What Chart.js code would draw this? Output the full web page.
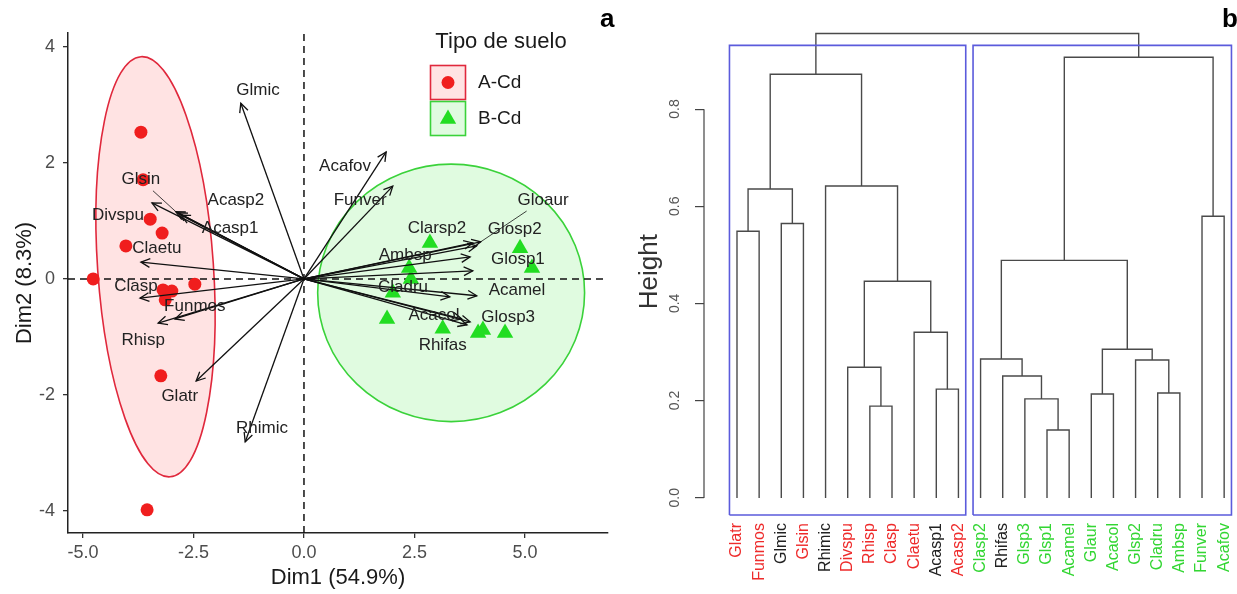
<!DOCTYPE html>
<html lang="es">
<head>
<meta charset="UTF-8">
<title>PCA y dendrograma</title>
<script src="https://cdn.jsdelivr.net/npm/chart.js"></script>
<style>
  body { margin: 0; background: #fff; }
  #wrap { position: relative; width: 1237px; height: 594px; overflow: hidden; }
  canvas { position: absolute; top: 0; }
  #pca { left: 0; }
  #dendro { left: 620px; }
</style>
</head>
<body>
<div id="wrap">
  <canvas id="pca" width="620" height="594"></canvas>
  <canvas id="dendro" width="633" height="594"></canvas>
</div>
<script>
// ---------- panel a: PCA biplot ----------
const xTicks = [-5, -2.5, 0, 2.5, 5];
const yTicks = [-4, -2, 0, 2, 4];

// individuals, [Dim1, Dim2]
const soilA = [[-3.69, 2.53], [-3.64, 1.71], [-3.48, 1.03], [-3.21, 0.79], [-4.03, 0.57], [-4.77, 0.0],
  [-2.47, -0.09], [-3.19, -0.19], [-2.99, -0.21], [-3.14, -0.36], [-3.24, -1.67], [-3.55, -3.98]];
const soilB = [[2.85, 0.62], [4.89, 0.53], [5.16, 0.19], [2.38, 0.19], [2.42, 0.0], [2.01, -0.24],
  [1.88, -0.69], [3.14, -0.86], [3.94, -0.93], [4.05, -0.88], [4.55, -0.93]];

// species vectors
const varNames = ["Glmic", "Glsin", "Acasp2", "Divspu", "Acasp1", "Claetu", "Clasp", "Funmos", "Rhisp", "Glatr", "Rhimic",
  "Acafov", "Funver", "Gloaur", "Clarsp2", "Glosp2", "Ambsp", "Glosp1", "Cladru", "Acamel", "Acacol", "Glosp3", "Rhifas"];
const varX = [-1.43, -2.90, -2.85, -3.44, -2.78, -3.69, -3.71, -2.92, -3.30, -2.44, -1.33,
  1.86, 2.01, 4.00, 3.82, 3.91, 3.76, 3.82, 3.30, 3.91, 3.69, 3.76, 3.57];
const varY = [3.03, 1.16, 1.14, 1.31, 1.10, 0.29, -0.33, -0.69, -0.76, -1.76, -2.81,
  2.19, 1.60, 0.64, 0.62, 0.57, 0.38, 0.14, -0.31, -0.29, -0.79, -0.74, -0.69];
// where each vector's name is written
const labelX = [-1.04, -3.69, -1.54, -4.21, -1.67, -3.33, -3.80, -2.47, -3.64, -2.81, -0.95,
  0.93, 1.27, 5.41, 3.01, 4.77, 2.29, 4.84, 2.24, 4.82, 2.94, 4.62, 3.14];
const labelY = [3.26, 1.71, 1.36, 1.10, 0.88, 0.53, -0.12, -0.47, -1.05, -2.03, -2.57,
  1.95, 1.36, 1.36, 0.88, 0.86, 0.40, 0.33, -0.14, -0.19, -0.62, -0.66, -1.14];
const leaderNames = ["Glsin", "Gloaur"];

// concentration ellipses: centre, half axes (data units), tilt (rad)
const ellipseA = { cx: -3.36, cy: 0.21, rx: 1.31, ry: 3.63, rot: -0.069 };
const ellipseB = { cx: 3.33, cy: -0.24, rx: 3.02, ry: 2.22, rot: 0 };

// ---------- panel b: dendrogram ----------
const leaves = ["Glatr", "Funmos", "Glmic", "Glsin", "Rhimic", "Divspu", "Rhisp", "Clasp", "Claetu", "Acasp1", "Acasp2",
  "Clasp2", "Rhifas", "Glsp3", "Glsp1", "Acamel", "Glaur", "Acacol", "Glsp2", "Cladru", "Ambsp", "Funver", "Acafov"];
const leafSoil = ["A", "A", "-", "A", "-", "A", "A", "A", "A", "-", "A",
  "B", "-", "B", "B", "B", "B", "B", "B", "B", "B", "B", "B"];
// hclust style merges: negative = leaf number, positive = earlier merge
const mergeLeft = [-15, -7, -14, -17, -20, -10, -13, -6, -19, -12, 4, -9, 8, 10, -1, -3, -22, 15, -5, 18, 14, 20];
const mergeRight = [-16, -8, 1, -18, -21, -11, 3, 2, 5, 7, 9, 6, 12, 11, -2, -4, -23, 16, 13, 19, 17, 21];
const mergeHeight = [0.140, 0.189, 0.204, 0.214, 0.216, 0.224, 0.251, 0.269, 0.284, 0.286, 0.306, 0.341,
  0.446, 0.489, 0.549, 0.565, 0.580, 0.636, 0.642, 0.872, 0.907, 0.956];
const heightTicks = [0, 0.2, 0.4, 0.6, 0.8];
const clusters = [[1, 11], [12, 23]];

const FONT = '"Liberation Sans", Arial, sans-serif';
Chart.defaults.font.family = FONT;

const RED = '#f01e1e';
const GREEN = '#22dd22';
const soilColor = { A: '#ee2b2b', B: '#33d633', '-': '#222222' };

// ---------- chart a ----------
const xMin = -5.34, xMax = 6.88, yMin = -4.38, yMax = 4.24;

const refSets = [
  [{ x: 0, y: yMin }, { x: 0, y: yMax }],
  [{ x: xMin, y: 0 }, { x: xMax, y: 0 }]
].map(d => ({
  type: 'line', data: d, borderColor: '#111', borderWidth: 1.5, borderDash: [7, 5],
  pointRadius: 0, showLine: true, order: 5
}));

const arrowSets = varNames.map((n, i) => ({
  label: n, data: [{ x: 0, y: 0 }, { x: varX[i], y: varY[i] }],
  showLine: true, borderColor: '#111', borderWidth: 1.3, pointRadius: 0, order: 2
}));

const pointsA = {
  label: 'A-Cd', data: soilA.map(p => ({ x: p[0], y: p[1] })),
  pointStyle: 'circle', pointRadius: 6.5, backgroundColor: RED, borderWidth: 0, order: 3
};
const pointsB = {
  label: 'B-Cd', data: soilB.map(p => ({ x: p[0], y: p[1] })),
  pointStyle: 'triangle', pointRadius: 9.5, backgroundColor: GREEN, borderWidth: 0, order: 3
};

function drawEllipse(ctx, xs, ys, e, fill, stroke) {
  const cx = xs.getPixelForValue(e.cx), cy = ys.getPixelForValue(e.cy);
  const rx = Math.abs(xs.getPixelForValue(e.cx + e.rx) - cx);
  const ry = Math.abs(ys.getPixelForValue(e.cy + e.ry) - cy);
  ctx.beginPath();
  ctx.ellipse(cx, cy, rx, ry, e.rot, 0, Math.PI * 2);
  ctx.fillStyle = fill;
  ctx.fill();
  ctx.lineWidth = 1.6;
  ctx.strokeStyle = stroke;
  ctx.stroke();
}

const ellipsePlugin = {
  id: 'ellipses',
  beforeDatasetsDraw(chart) {
    const { ctx, scales: { x, y } } = chart;
    ctx.save();
    drawEllipse(ctx, x, y, ellipseA, 'rgba(255,0,0,0.11)', '#e0283c');
    drawEllipse(ctx, x, y, ellipseB, 'rgba(0,220,0,0.12)', '#3ad23a');
    ctx.restore();
  }
};

const annotPlugin = {
  id: 'annot',
  afterDatasetsDraw(chart) {
    const { ctx, scales: { x, y } } = chart;
    ctx.save();
    // arrow heads
    const ox = x.getPixelForValue(0), oy = y.getPixelForValue(0);
    ctx.strokeStyle = '#111';
    ctx.lineWidth = 1.3;
    varX.forEach((vx, i) => {
      const tx = x.getPixelForValue(vx), ty = y.getPixelForValue(varY[i]);
      const a = Math.atan2(ty - oy, tx - ox);
      ctx.beginPath();
      ctx.moveTo(tx - 10 * Math.cos(a - 0.45), ty - 10 * Math.sin(a - 0.45));
      ctx.lineTo(tx, ty);
      ctx.lineTo(tx - 10 * Math.cos(a + 0.45), ty - 10 * Math.sin(a + 0.45));
      ctx.stroke();
    });

    // names
    ctx.font = '17px ' + FONT;
    ctx.fillStyle = '#222';
    ctx.textAlign = 'center';
    ctx.textBaseline = 'middle';
    varNames.forEach((n, i) => {
      const lx = x.getPixelForValue(labelX[i]), ly = y.getPixelForValue(labelY[i]);
      ctx.fillText(n, lx, ly);
      if (leaderNames.includes(n)) {
        const tx = x.getPixelForValue(varX[i]), ty = y.getPixelForValue(varY[i]);
        const w = ctx.measureText(n).width / 2 + 2;
        const t = Math.min(w / Math.abs(tx - lx), 11 / Math.abs(ty - ly));
        ctx.beginPath();
        ctx.lineWidth = 0.8;
        ctx.moveTo(lx + t * (tx - lx), ly + t * (ty - ly));
        ctx.lineTo(tx, ty);
        ctx.stroke();
      }
    });

    // legend
    ctx.fillStyle = '#1a1a1a';
    ctx.font = '22px ' + FONT;
    ctx.fillText('Tipo de suelo', 501, 42);
    ctx.lineWidth = 1.6;
    ctx.fillStyle = 'rgba(255,0,0,0.11)';
    ctx.fillRect(430.5, 65.5, 35, 34);
    ctx.strokeStyle = '#e0283c';
    ctx.strokeRect(430.5, 65.5, 35, 34);
    ctx.fillStyle = 'rgba(0,220,0,0.12)';
    ctx.fillRect(430.5, 101.5, 35, 34);
    ctx.strokeStyle = '#3ad23a';
    ctx.strokeRect(430.5, 101.5, 35, 34);
    ctx.fillStyle = RED;
    ctx.beginPath();
    ctx.arc(448, 82.5, 6.5, 0, Math.PI * 2);
    ctx.fill();
    ctx.fillStyle = GREEN;
    ctx.beginPath();
    ctx.moveTo(448, 109.5);
    ctx.lineTo(448 + 8.2, 123.7);
    ctx.lineTo(448 - 8.2, 123.7);
    ctx.closePath();
    ctx.fill();
    ctx.fillStyle = '#1a1a1a';
    ctx.font = '19px ' + FONT;
    ctx.textAlign = 'left';
    ctx.fillText('A-Cd', 478, 83);
    ctx.fillText('B-Cd', 478, 119);

    // panel tag
    ctx.font = 'bold 26px ' + FONT;
    ctx.textBaseline = 'alphabetic';
    ctx.fillStyle = '#000';
    ctx.fillText('a', 600, 27);
    ctx.restore();
  }
};

new Chart(document.getElementById('pca'), {
  type: 'scatter',
  data: { datasets: [...refSets, ...arrowSets, pointsA, pointsB] },
  options: {
    responsive: false,
    animation: false,
    events: [],
    layout: { padding: { top: 33, right: 12, left: 0, bottom: 0 } },
    plugins: { legend: { display: false }, tooltip: { enabled: false } },
    scales: {
      x: {
        type: 'linear', min: xMin, max: xMax,
        afterBuildTicks: s => { s.ticks = xTicks.map(v => ({ value: v })); },
        afterFit: s => { s.height = 61; },
        ticks: { callback: v => v.toFixed(1), color: '#4d4d4d', font: { size: 18 }, padding: 4, autoSkip: false, maxRotation: 0 },
        grid: { drawOnChartArea: false, tickLength: 5, color: '#333', lineWidth: 1.3 },
        border: { color: '#222', width: 1.5 },
        title: { display: true, text: 'Dim1 (54.9%)', font: { size: 22 }, color: '#1a1a1a', padding: { top: 0, bottom: 3 } }
      },
      y: {
        type: 'linear', min: yMin, max: yMax,
        afterBuildTicks: s => { s.ticks = yTicks.map(v => ({ value: v })); },
        afterFit: s => { s.width = 68; },
        ticks: { callback: v => String(v), color: '#4d4d4d', font: { size: 18 }, padding: 8, autoSkip: false },
        grid: { drawOnChartArea: false, tickLength: 5, color: '#333', lineWidth: 1.3 },
        border: { color: '#222', width: 1.5 },
        title: { display: true, text: 'Dim2 (8.3%)', font: { size: 22 }, color: '#1a1a1a', padding: { top: 12, bottom: 0 } }
      }
    }
  },
  plugins: [ellipsePlugin, annotPlugin]
});

// ---------- chart b ----------
const hMin = -0.035, hMax = 0.9665;
const nodeX = [], nodeH = [];
const at = i => (i < 0 ? [-i, 0] : [nodeX[i - 1], nodeH[i - 1]]);
const linkSets = mergeHeight.map((h, k) => {
  const [xl, hl] = at(mergeLeft[k]);
  const [xr, hr] = at(mergeRight[k]);
  nodeX.push((xl + xr) / 2);
  nodeH.push(h);
  return {
    data: [{ x: xl, y: hl }, { x: xl, y: h }, { x: xr, y: h }, { x: xr, y: hr }],
    showLine: true, borderColor: '#4a4a4a', borderWidth: 1.4, pointRadius: 0, order: 2
  };
});

const boxTop = (mergeHeight[mergeHeight.length - 1] + mergeHeight[mergeHeight.length - 2]) / 2;
const boxSets = clusters.map(([a, b]) => {
  const l = a - 0.34, r = b + 0.33;
  return {
    data: [{ x: l, y: hMin }, { x: l, y: boxTop }, { x: r, y: boxTop }, { x: r, y: hMin }, { x: l, y: hMin }],
    showLine: true, borderColor: '#5b5bdc', borderWidth: 1.6, pointRadius: 0, clip: false, order: 1
  };
});

const dendroPlugin = {
  id: 'dendroAxis',
  afterDatasetsDraw(chart) {
    const { ctx, chartArea, scales: { y } } = chart;
    ctx.save();
    ctx.strokeStyle = '#444';
    ctx.lineWidth = 1.2;
    ctx.beginPath();
    ctx.moveTo(chartArea.left, y.getPixelForValue(heightTicks[0]));
    ctx.lineTo(chartArea.left, y.getPixelForValue(heightTicks[heightTicks.length - 1]));
    ctx.stroke();
    ctx.font = 'bold 26px ' + FONT;
    ctx.fillStyle = '#000';
    ctx.fillText('b', 602, 27);
    ctx.restore();
  }
};

new Chart(document.getElementById('dendro'), {
  type: 'scatter',
  data: { datasets: [...boxSets, ...linkSets] },
  options: {
    responsive: false,
    animation: false,
    events: [],
    layout: { padding: { top: 28, right: 16, left: 0, bottom: 0 } },
    plugins: { legend: { display: false }, tooltip: { enabled: false } },
    scales: {
      x: {
        type: 'linear', min: -0.49, max: 23.58,
        afterBuildTicks: s => { s.ticks = leaves.map((n, i) => ({ value: i + 1 })); },
        afterFit: s => { s.height = 79; },
        ticks: {
          autoSkip: false, minRotation: 90, maxRotation: 90, padding: 8, font: { size: 16 },
          callback: v => leaves[v - 1],
          color: c => soilColor[leafSoil[c.index]]
        },
        grid: { display: false, drawTicks: false },
        border: { display: false }
      },
      y: {
        type: 'linear', min: hMin, max: hMax,
        afterBuildTicks: s => { s.ticks = heightTicks.map(v => ({ value: v })); },
        afterFit: s => { s.width = 84; },
        ticks: {
          autoSkip: false, minRotation: 90, maxRotation: 90, labelOffset: -10, padding: 20,
          font: { size: 14 }, color: '#555', callback: v => v.toFixed(1)
        },
        grid: { drawOnChartArea: false, tickLength: 9, color: '#444', lineWidth: 1.2 },
        border: { display: false },
        title: { display: true, text: 'Height', font: { size: 26 }, color: '#333', padding: { top: 14, bottom: 0 } }
      }
    }
  },
  plugins: [dendroPlugin]
});
</script>
</body>
</html>
